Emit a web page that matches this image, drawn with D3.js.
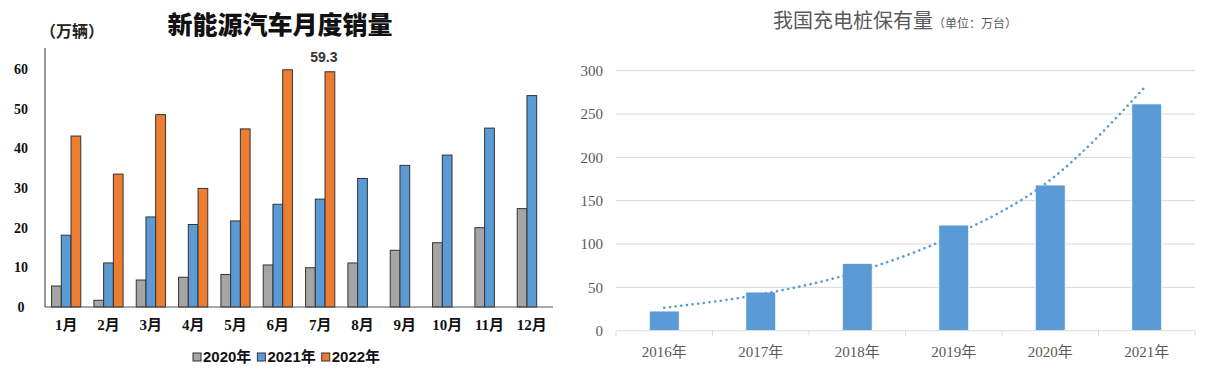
<!DOCTYPE html>
<html>
<head>
<meta charset="utf-8">
<script src="https://cdn.jsdelivr.net/npm/d3@7"></script>
<style>
  body { margin: 0; background: #fff; }
  svg { display: block; }
</style>
</head>
<body>
<svg id="chart" width="1205" height="373"></svg>
<script>
"use strict";

// left chart: monthly NEV sales (10k units)
const months = ["1月", "2月", "3月", "4月", "5月", "6月", "7月", "8月", "9月", "10月", "11月", "12月"];
const salesYears = ["2020年", "2021年", "2022年"];
const sales2020 = [5.3, 1.7, 6.8, 7.5, 8.2, 10.6, 9.9, 11.1, 14.3, 16.2, 20.0, 24.8];
const sales2021 = [18.1, 11.1, 22.7, 20.8, 21.7, 25.9, 27.2, 32.4, 35.7, 38.3, 45.1, 53.3];
const sales2022 = [43.1, 33.5, 48.5, 29.9, 44.9, 59.8, 59.3, null, null, null, null, null];
const salesTicks = [0, 10, 20, 30, 40, 50, 60];

// right chart: charging piles in stock (10k units)
const pileYears = ["2016年", "2017年", "2018年", "2019年", "2020年", "2021年"];
const pileValues = [22.7, 44.6, 77.7, 121.9, 168.1, 261.7];
const pileTrend = [26.5, 42, 68, 110, 174, 283.5];
const pileTicks = [0, 50, 100, 150, 200, 250, 300];

const svg = d3.select("#chart");
const boldFont = "'Liberation Serif', 'Noto Sans CJK SC', serif";
const serifFont = "'Liberation Serif', 'Noto Sans CJK SC', serif";

// ---------- left ----------
const colors = ["#a5a5a5", "#5b9bd5", "#ed7d31"];
const series = [sales2020, sales2021, sales2022];

const xL = d3.scaleBand().domain(months).range([45, 553]).paddingInner(0.31).paddingOuter(0.155);
const xSub = d3.scaleBand().domain(salesYears).range([0, xL.bandwidth()]);
const yL = d3.scaleLinear().domain([0, 60]).range([307, 69]);

const left = svg.append("g");

left.append("text")
  .attr("x", 280).attr("y", 34)
  .attr("text-anchor", "middle")
  .attr("font-family", "'Noto Sans CJK SC', sans-serif")
  .attr("font-weight", 900)
  .attr("font-size", 25)
  .attr("fill", "#111")
  .text("新能源汽车月度销量");

left.append("text")
  .attr("x", 40).attr("y", 37)
  .attr("font-family", "'Noto Sans CJK SC', sans-serif")
  .attr("font-weight", 700)
  .attr("font-size", 16)
  .attr("fill", "#222")
  .text("（万辆）");

salesTicks.forEach(t => {
  left.append("text")
    .attr("x", 21).attr("y", yL(t))
    .attr("dy", "0.35em")
    .attr("text-anchor", "middle")
    .attr("font-family", boldFont)
    .attr("font-weight", 700)
    .attr("font-size", 14)
    .attr("fill", "#111")
    .text(t);
});

series.forEach((vals, si) => {
  left.append("g")
    .selectAll("rect")
    .data(vals.map((v, i) => ({ m: months[i], v })).filter(d => d.v != null))
    .enter()
    .append("rect")
    .attr("x", d => xL(d.m) + xSub(salesYears[si]))
    .attr("y", d => yL(d.v))
    .attr("width", xSub.bandwidth())
    .attr("height", d => yL(0) - yL(d.v))
    .attr("fill", colors[si])
    .attr("stroke", "#333")
    .attr("stroke-width", 1);
});

left.append("line")
  .attr("x1", 45).attr("x2", 45)
  .attr("y1", yL(65.3)).attr("y2", yL(0))
  .attr("stroke", "#555").attr("stroke-width", 1.2);
left.append("line")
  .attr("x1", 45).attr("x2", 553)
  .attr("y1", yL(0)).attr("y2", yL(0))
  .attr("stroke", "#555").attr("stroke-width", 1.2);

left.append("text")
  .attr("x", xL("7月") + xSub("2022年") + xSub.bandwidth() / 2 - 6)
  .attr("y", yL(59.3) - 10)
  .attr("text-anchor", "middle")
  .attr("font-family", "'Liberation Sans', Arial, sans-serif")
  .attr("font-weight", 700)
  .attr("font-size", 14)
  .attr("fill", "#333")
  .text("59.3");

months.forEach(m => {
  left.append("text")
    .attr("x", xL(m) + xL.bandwidth() / 2)
    .attr("y", 325)
    .attr("dy", "0.35em")
    .attr("text-anchor", "middle")
    .attr("font-family", boldFont)
    .attr("font-weight", 700)
    .attr("font-size", 15)
    .attr("fill", "#111")
    .text(m);
});

// legend
const legend = left.append("g").attr("transform", "translate(192,357)");
let lx = 0;
salesYears.forEach((y, i) => {
  legend.append("rect")
    .attr("x", lx + 1).attr("y", -4)
    .attr("width", 8).attr("height", 8)
    .attr("fill", colors[i]).attr("stroke", "#333").attr("stroke-width", 1);
  const t = legend.append("text")
    .attr("x", lx + 11).attr("y", 0)
    .attr("dy", "0.36em")
    .attr("font-family", "'Liberation Sans', 'Noto Sans CJK SC', sans-serif")
    .attr("font-weight", 700)
    .attr("font-size", 15)
    .attr("fill", "#111")
    .text(y);
  lx += 11 + t.node().getComputedTextLength() + 5;
});

// ---------- right ----------
const xR = d3.scaleBand().domain(pileYears).range([616, 1195]).paddingInner(0.69).paddingOuter(0.345);
const yR = d3.scaleLinear().domain([0, 300]).range([330.7, 70.7]);
const right = svg.append("g");

const title = right.append("text")
  .attr("x", 773).attr("y", 22)
  .attr("dy", "0.35em")
  .attr("font-family", "'Noto Sans CJK SC', sans-serif")
  .attr("fill", "#595959");
title.append("tspan").attr("font-size", 20).text("我国充电桩保有量");
title.append("tspan").attr("font-size", 12).text("（单位：万台）");

right.append("g")
  .selectAll("line")
  .data(pileTicks.filter(t => t > 0))
  .enter()
  .append("line")
  .attr("x1", 616).attr("x2", 1195)
  .attr("y1", d => yR(d)).attr("y2", d => yR(d))
  .attr("stroke", "#d9d9d9").attr("stroke-width", 1);

right.append("g")
  .selectAll("text")
  .data(pileTicks)
  .enter()
  .append("text")
  .attr("x", 603).attr("y", d => yR(d))
  .attr("dy", "0.35em")
  .attr("text-anchor", "end")
  .attr("font-family", serifFont)
  .attr("font-size", 15)
  .attr("fill", "#595959")
  .text(d => d);

right.append("g")
  .selectAll("rect")
  .data(pileValues)
  .enter()
  .append("rect")
  .attr("x", (d, i) => xR(pileYears[i]))
  .attr("y", d => yR(d))
  .attr("width", xR.bandwidth())
  .attr("height", d => yR(0) - yR(d))
  .attr("fill", "#5b9bd5")
  .attr("stroke", "#fff")
  .attr("stroke-width", 0.8);

// baseline with category tick marks
right.append("line")
  .attr("x1", 616).attr("x2", 1195)
  .attr("y1", yR(0)).attr("y2", yR(0))
  .attr("stroke", "#d9d9d9").attr("stroke-width", 1);
const step = xR.step();
const edges = pileYears.map(y => xR(y) + xR.bandwidth() / 2 - step / 2).concat([1195]);
right.append("g")
  .selectAll("line")
  .data(edges)
  .enter()
  .append("line")
  .attr("x1", d => d).attr("x2", d => d)
  .attr("y1", yR(0)).attr("y2", yR(0) + 5)
  .attr("stroke", "#d9d9d9").attr("stroke-width", 1);

right.append("g")
  .selectAll("text")
  .data(pileYears)
  .enter()
  .append("text")
  .attr("x", d => xR(d) + xR.bandwidth() / 2)
  .attr("y", 352)
  .attr("dy", "0.35em")
  .attr("text-anchor", "middle")
  .attr("font-family", serifFont)
  .attr("font-size", 15)
  .attr("fill", "#595959")
  .text(d => d);

const trendLine = d3.line()
  .x((d, i) => xR(pileYears[i]) + xR.bandwidth() / 2)
  .y(d => yR(d))
  .curve(d3.curveMonotoneX);

right.append("path")
  .attr("d", trendLine(pileTrend))
  .attr("fill", "none")
  .attr("stroke", "#5b9bd5")
  .attr("stroke-width", 2.6)
  .attr("stroke-linecap", "round")
  .attr("stroke-dasharray", "0.1 5.6");
</script>
</body>
</html>
